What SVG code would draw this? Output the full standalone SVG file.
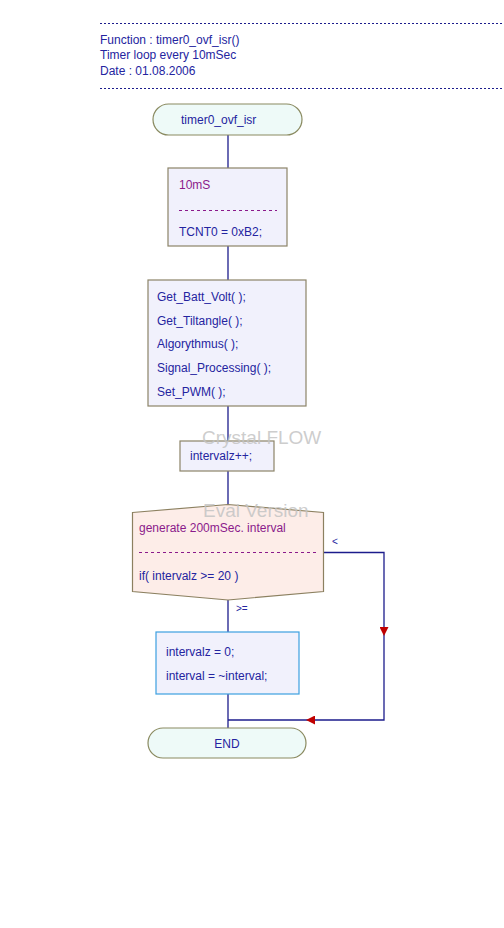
<svg xmlns="http://www.w3.org/2000/svg" width="504" height="928" viewBox="0 0 504 928">
<defs>
<marker id="arr" viewBox="0 0 10 10" refX="10" refY="5" markerUnits="userSpaceOnUse" markerWidth="9" markerHeight="9" orient="auto">
<path d="M0,0 L10,5 L0,10 z" fill="#c00000"/>
</marker>
<style>
text{font-family:"Liberation Sans",Arial,sans-serif;font-size:12px;fill:#2424a0}
.cm{fill:#8b1a8b}
.wm{font-size:19px;fill:#c4c4c4;fill-opacity:0.85}
.ln{stroke:#1c1c8c;stroke-width:1.3;fill:none}
.hd{stroke:#1c1c8c;stroke-width:1;stroke-dasharray:2 2;fill:none}
.cd{stroke:#8b1a8b;stroke-width:1;stroke-dasharray:3 3;fill:none}
.term{fill:#eefaf8;stroke:#8a8a60;stroke-width:1.2}
.box{fill:#f1f1fc;stroke:#8c8468;stroke-width:1.2}
.box2{fill:#f1f1fc;stroke:#3ca0e0;stroke-width:1.2}
.dec{fill:#fdede8;stroke:#8c8060;stroke-width:1.2}
</style>
</defs>
<rect width="504" height="928" fill="#ffffff"/>

<g id="header">
<path class="hd" d="M100,23.5 H504"/>
<text x="100" y="44">Function : timer0_ovf_isr()</text>
<text x="100" y="59">Timer loop every 10mSec</text>
<text x="100" y="75">Date : 01.08.2006</text>
<path class="hd" d="M100,88.5 H504"/>
</g>

<g id="connectors">
<path class="ln" d="M228,135 V168"/>
<path class="ln" d="M228,246 V280"/>
<path class="ln" d="M228,406 V441"/>
<path class="ln" d="M228,471 V505"/>
<path class="ln" d="M228,600 V632"/>
<path class="ln" d="M228,694 V728"/>
<path class="ln" d="M323,552.5 H384 V636" marker-end="url(#arr)"/>
<path class="ln" d="M384,636 V720 H306" marker-end="url(#arr)"/>
<path class="ln" d="M306,720 H228"/>
<text x="332" y="545" style="font-size:10px">&lt;</text>
<text x="236" y="612" style="font-size:10px">&gt;=</text>
</g>

<g id="start">
<rect class="term" x="153" y="104" width="149" height="31" rx="15.5" ry="15.5"/>
<text x="181" y="124">timer0_ovf_isr</text>
</g>

<g id="init">
<rect class="box" x="168" y="168" width="119" height="78"/>
<text class="cm" x="179" y="189">10mS</text>
<path class="cd" d="M179,210.5 H277"/>
<text x="179" y="236">TCNT0 = 0xB2;</text>
</g>

<g id="calls">
<rect class="box" x="148" y="280" width="158" height="126"/>
<text x="157" y="301">Get_Batt_Volt( );</text>
<text x="157" y="325">Get_Tiltangle( );</text>
<text x="157" y="348">Algorythmus( );</text>
<text x="157" y="372">Signal_Processing( );</text>
<text x="157" y="396">Set_PWM( );</text>
</g>

<g id="inc">
<rect class="box" x="180" y="441" width="94" height="30"/>
<text x="190" y="460">intervalz++;</text>
</g>

<g id="decision">
<path class="dec" d="M132.5,512.5 L228,504.5 L323.5,512.5 L323.5,591.5 L228,600 L132.5,591.5 Z"/>
<text class="cm" x="139" y="532">generate 200mSec. interval</text>
<path class="cd" d="M139,552.5 H318"/>
<text x="139" y="580">if( intervalz &gt;= 20 )</text>
</g>

<g id="reset">
<rect class="box2" x="156" y="632" width="143" height="62"/>
<text x="166" y="656">intervalz = 0;</text>
<text x="166" y="680">interval = ~interval;</text>
</g>

<g id="end">
<rect class="term" x="148" y="728" width="158" height="30" rx="15" ry="15"/>
<text x="227" y="748" text-anchor="middle">END</text>
</g>

<g id="watermark">
<text class="wm" x="202" y="444">Crystal FLOW</text>
<text class="wm" x="203" y="517">Eval Version</text>
</g>
</svg>
